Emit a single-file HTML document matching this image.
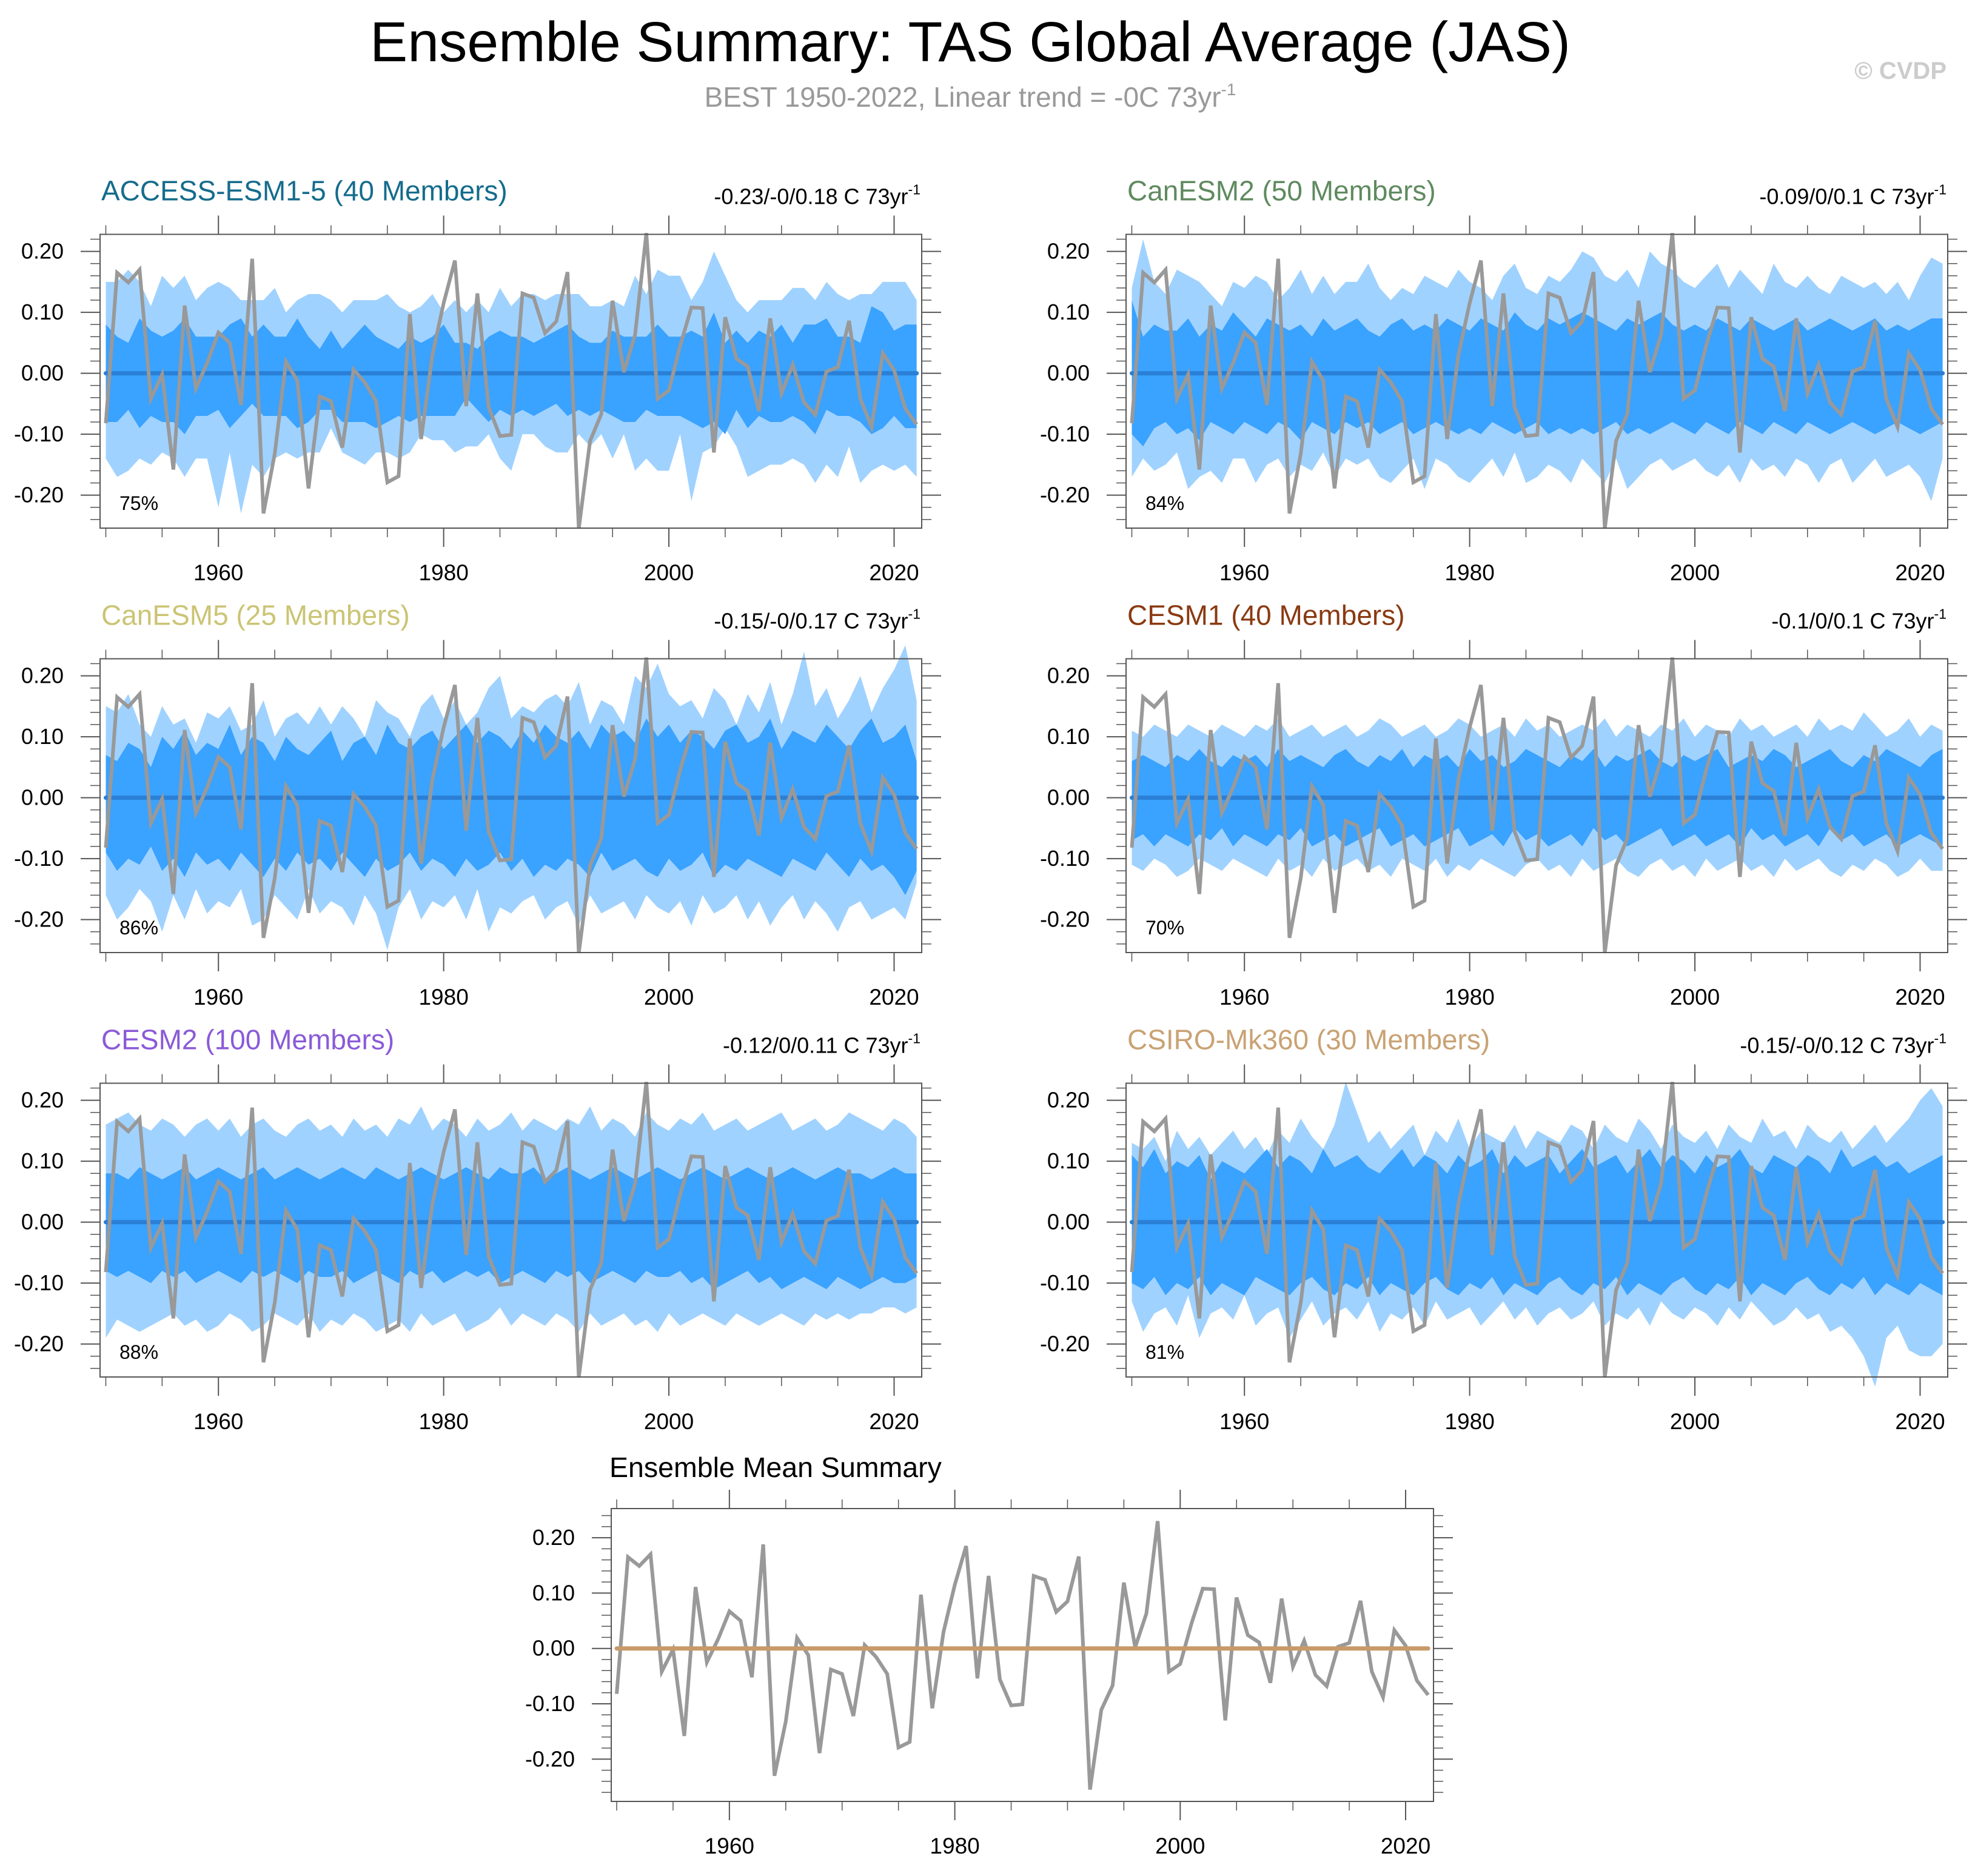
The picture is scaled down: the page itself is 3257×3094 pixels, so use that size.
<!DOCTYPE html>
<html><head><meta charset="utf-8"><style>
html,body{margin:0;padding:0;background:#fff}
svg{display:block;font-family:"Liberation Sans",Arial,sans-serif}
</style></head><body>
<svg id="fig" xmlns="http://www.w3.org/2000/svg" width="3257" height="3094" viewBox="0 0 3257 3094">
<text x="1600" y="101" font-size="93" text-anchor="middle" fill="#000">Ensemble Summary: TAS Global Average (JAS)</text>
<text x="1600" y="176" font-size="46" text-anchor="middle" fill="#999">BEST 1950-2022, Linear trend = -0C 73yr<tspan font-size="28" dy="-19">-1</tspan></text>
<text x="3210" y="130" font-size="40" font-weight="bold" text-anchor="end" fill="#ccc">© CVDP</text>
<text x="1005" y="2436" font-size="46.5" fill="#000">Ensemble Mean Summary</text>
<g id="plots"></g>
</svg>
<script>
const years = [];
for (let y = 1950; y <= 2022; y++) years.push(y);
// observed BEST anomalies (C)
const obs = [-0.082,0.165,0.149,0.170,-0.042,-0.002,-0.158,0.111,-0.025,0.017,
0.067,0.050,-0.052,0.188,-0.230,-0.132,0.019,-0.012,-0.189,-0.038,
-0.046,-0.122,0.006,-0.015,-0.046,-0.179,-0.169,0.097,-0.108,0.030,
0.115,0.185,-0.054,0.131,-0.056,-0.103,-0.101,0.131,0.124,0.066,
0.085,0.166,-0.255,-0.111,-0.067,0.119,0.002,0.063,0.230,-0.042,
-0.028,0.045,0.108,0.107,-0.130,0.092,0.024,0.011,-0.062,0.090,
-0.033,0.014,-0.048,-0.068,0.003,0.010,0.086,-0.042,-0.088,0.033,
0.005,-0.058,-0.084];
const yTicks = [-0.2,-0.1,0,0.1,0.2];
const yTickLabels = ["-0.20","-0.10","0.00","0.10","0.20"];
const xTicks = [1960,1980,2000,2020];
const xTickLabels = ["1960","1980","2000","2020"];
const modelNames = ["ACCESS-ESM1-5 (40 Members)","CanESM2 (50 Members)","CanESM5 (25 Members)","CESM1 (40 Members)","CESM2 (100 Members)","CSIRO-Mk360 (30 Members)"];
const trendLabels = ["-0.23/-0/0.18 C 73yr","-0.09/0/0.1 C 73yr","-0.15/-0/0.17 C 73yr","-0.1/0/0.1 C 73yr","-0.12/0/0.11 C 73yr","-0.15/-0/0.12 C 73yr"];
const pctLabels = ["75%","84%","86%","70%","88%","81%"];
// band edges in hundredths of a degree C
const outerHi = [
[15,15,17,15,11,16,14,16,12,14,15,14,12,12,12,14,10,12,13,13,12,10,12,12,12,13,11,10,11,13,10,12,10,12,10,14,11,13,13,12,13,13,13,11,11,12,11,16,13,17,16,16,12,15,20,16,12,10,12,12,12,14,14,12,15,13,12,13,13,15,15,15,12],
[14,22,15,13,17,16,15,13,11,15,14,16,15,12,14,17,13,16,13,15,15,18,14,12,14,13,16,15,14,17,15,14,12,16,18,14,13,16,15,17,20,19,16,15,17,14,20,18,17,15,14,16,18,14,17,15,13,18,15,14,16,14,13,16,15,14,15,13,15,12,16,19,18],
[15,14,17,12,10,15,12,13,9,14,13,15,11,12,16,10,13,14,12,15,12,15,13,10,16,14,13,10,15,17,13,16,12,14,18,20,13,15,14,16,17,15,19,12,16,15,12,20,18,22,17,15,16,13,18,16,12,17,14,19,12,17,24,15,18,13,16,20,14,18,21,25,16],
[11,10,12,11,10,12,11,10,12,11,10,12,11,13,10,11,12,10,11,12,10,11,13,12,10,11,12,10,11,13,12,10,11,12,10,13,11,12,10,11,12,11,13,10,12,11,10,12,11,13,10,12,11,10,13,11,12,10,11,12,10,13,11,12,11,14,12,10,11,13,10,12,11],
[16,17,18,16,15,17,16,14,16,17,15,17,14,16,17,15,14,16,17,15,16,14,17,15,16,14,17,16,19,15,17,16,14,17,15,16,18,15,17,16,15,17,16,19,15,17,16,14,18,16,15,17,16,18,15,16,17,15,16,17,18,15,16,17,15,16,18,17,16,15,17,16,14],
[13,12,14,10,15,12,14,11,13,15,12,14,11,15,13,17,14,12,16,23,18,13,15,12,14,16,11,15,13,17,12,15,14,13,16,12,15,14,13,16,15,12,16,14,13,17,15,12,16,14,13,15,12,16,14,13,17,14,15,12,16,14,13,15,12,14,16,13,15,17,20,22,19]];
const outerLo = [
[-14,-17,-16,-14,-15,-13,-14,-17,-14,-14,-22,-13,-23,-15,-17,-14,-13,-14,-13,-13,-9,-13,-14,-15,-13,-13,-14,-13,-10,-11,-11,-13,-12,-12,-10,-14,-16,-10,-10,-12,-13,-13,-10,-12,-10,-14,-10,-16,-14,-16,-16,-10,-21,-13,-12,-9,-12,-17,-16,-15,-15,-14,-15,-18,-15,-17,-12,-18,-16,-15,-16,-15,-17],
[-17,-14,-16,-15,-13,-19,-17,-16,-18,-14,-14,-18,-15,-14,-17,-15,-16,-13,-17,-14,-15,-14,-17,-18,-16,-14,-19,-14,-15,-17,-18,-16,-14,-17,-13,-18,-17,-15,-16,-18,-14,-16,-18,-14,-19,-17,-15,-14,-16,-15,-14,-16,-17,-15,-18,-14,-16,-15,-17,-14,-15,-18,-15,-14,-18,-16,-14,-17,-16,-15,-17,-21,-14],
[-16,-20,-18,-15,-17,-22,-16,-20,-15,-19,-17,-18,-15,-21,-20,-16,-18,-20,-15,-19,-17,-18,-21,-16,-19,-25,-18,-15,-20,-17,-18,-16,-20,-15,-22,-18,-19,-17,-16,-20,-18,-17,-21,-16,-19,-18,-17,-20,-16,-18,-19,-17,-21,-16,-19,-18,-16,-20,-17,-21,-18,-16,-20,-17,-19,-22,-18,-17,-20,-19,-18,-20,-14],
[-11,-12,-10,-11,-13,-12,-10,-11,-12,-10,-11,-12,-13,-10,-12,-11,-13,-10,-12,-11,-10,-12,-11,-13,-10,-11,-12,-10,-13,-11,-12,-10,-11,-12,-13,-11,-10,-12,-11,-13,-10,-12,-11,-10,-12,-13,-11,-10,-12,-11,-13,-10,-12,-11,-10,-12,-11,-13,-10,-12,-11,-10,-12,-13,-11,-12,-10,-11,-13,-12,-10,-12,-12],
[-19,-16,-17,-18,-17,-16,-15,-17,-16,-18,-17,-15,-16,-18,-17,-15,-16,-17,-15,-18,-16,-17,-15,-16,-18,-17,-16,-18,-15,-17,-16,-15,-18,-17,-16,-14,-17,-15,-16,-17,-15,-16,-18,-15,-17,-16,-15,-17,-16,-18,-15,-17,-16,-15,-16,-17,-15,-16,-17,-16,-15,-16,-17,-15,-16,-15,-16,-15,-15,-14,-14,-15,-14],
[-13,-18,-15,-14,-17,-12,-19,-15,-14,-16,-12,-17,-15,-14,-19,-16,-13,-17,-15,-14,-16,-13,-18,-15,-16,-14,-17,-13,-16,-15,-14,-17,-15,-13,-16,-14,-17,-15,-14,-16,-15,-13,-17,-15,-16,-14,-17,-13,-15,-16,-14,-15,-17,-14,-16,-13,-15,-17,-16,-14,-16,-15,-18,-17,-19,-22,-27,-19,-17,-21,-22,-22,-20]];
const innerHi = [
[8,6,5,9,7,6,7,9,6,6,6,8,9,6,8,6,6,9,6,4,7,4,6,8,6,5,4,6,5,6,8,5,5,4,6,7,6,6,5,6,7,8,6,5,5,7,6,6,6,8,6,6,7,6,10,5,7,5,7,6,8,5,8,8,9,6,6,5,11,10,7,8,8],
[12,6,8,7,7,9,6,8,7,10,8,6,9,8,7,8,6,9,7,8,9,7,6,8,9,7,8,7,9,8,7,9,8,7,10,8,7,9,8,9,10,9,8,7,9,8,9,10,8,7,8,7,9,8,7,9,8,7,8,9,7,8,9,8,7,8,9,7,8,7,8,9,9],
[7,6,9,8,5,10,8,11,7,9,8,12,7,10,9,6,10,8,7,9,11,6,9,10,7,12,9,8,10,11,8,10,12,9,11,10,8,11,9,12,10,9,11,8,12,10,11,9,13,10,12,9,11,10,8,11,12,9,10,13,8,11,10,9,12,10,8,11,13,9,10,12,6],
[6,7,6,5,7,6,8,6,5,7,6,7,5,8,6,7,6,5,7,8,6,5,7,6,8,5,7,6,7,5,8,6,7,5,6,8,7,6,5,7,6,8,5,7,6,7,8,6,5,7,6,7,8,5,6,7,6,8,7,5,6,7,8,6,5,7,6,8,7,6,5,7,8],
[8,8,7,9,8,7,8,9,7,8,9,8,7,8,9,7,8,9,8,7,8,9,8,7,9,8,7,8,9,8,7,8,9,8,7,9,8,8,9,7,8,9,8,7,8,9,8,7,8,9,8,7,8,9,8,7,8,9,8,7,8,9,8,7,8,9,8,8,7,8,9,8,8],
[11,9,12,8,10,9,11,7,10,9,8,10,12,9,11,10,8,12,9,10,11,9,8,10,12,9,11,10,8,11,9,10,12,8,11,9,10,11,8,10,12,9,10,11,8,10,12,9,11,10,8,11,9,10,12,9,8,11,10,9,11,10,8,12,9,10,11,9,10,8,9,10,11]];
const innerLo = [
[-8,-8,-6,-9,-7,-8,-8,-10,-7,-7,-6,-9,-7,-5,-7,-7,-7,-9,-8,-6,-6,-8,-8,-8,-9,-8,-7,-8,-7,-7,-7,-7,-4,-6,-8,-6,-7,-6,-7,-6,-5,-7,-6,-7,-6,-7,-8,-8,-6,-7,-7,-7,-8,-9,-8,-10,-6,-9,-7,-8,-8,-7,-8,-10,-6,-7,-7,-8,-10,-9,-7,-9,-9],
[-10,-12,-9,-8,-10,-9,-11,-8,-9,-10,-8,-9,-10,-8,-9,-11,-8,-9,-10,-8,-9,-8,-10,-9,-8,-10,-9,-8,-9,-10,-9,-10,-8,-9,-10,-9,-8,-10,-9,-10,-9,-10,-9,-8,-10,-9,-10,-9,-8,-9,-10,-8,-9,-10,-8,-9,-10,-8,-9,-10,-8,-9,-10,-9,-8,-9,-10,-9,-8,-9,-10,-9,-8],
[-9,-12,-10,-11,-8,-12,-10,-13,-9,-11,-10,-12,-9,-11,-13,-10,-12,-9,-11,-10,-12,-9,-11,-13,-10,-12,-11,-9,-12,-10,-11,-13,-10,-12,-11,-9,-12,-10,-13,-11,-12,-10,-11,-13,-9,-12,-11,-10,-12,-13,-10,-12,-11,-9,-13,-11,-12,-10,-11,-12,-13,-10,-11,-12,-9,-11,-13,-10,-12,-11,-13,-16,-12],
[-7,-6,-8,-6,-7,-8,-6,-7,-5,-8,-6,-7,-8,-6,-7,-5,-8,-7,-6,-8,-7,-6,-5,-8,-7,-6,-8,-7,-6,-5,-8,-7,-6,-8,-5,-7,-6,-8,-7,-6,-8,-5,-7,-6,-8,-7,-6,-5,-8,-7,-6,-8,-7,-6,-8,-5,-7,-6,-8,-7,-6,-8,-5,-7,-6,-8,-7,-6,-8,-7,-6,-7,-8],
[-8,-9,-8,-9,-10,-8,-9,-8,-10,-9,-8,-9,-10,-8,-9,-8,-9,-10,-8,-9,-9,-8,-10,-9,-8,-9,-10,-8,-9,-8,-10,-9,-8,-9,-8,-10,-9,-8,-9,-10,-8,-9,-8,-10,-9,-8,-9,-10,-8,-9,-9,-8,-10,-9,-11,-10,-9,-8,-10,-9,-11,-10,-9,-10,-11,-9,-10,-11,-10,-9,-10,-10,-9],
[-10,-11,-9,-12,-10,-11,-9,-12,-10,-11,-12,-9,-10,-11,-12,-10,-9,-11,-12,-10,-11,-9,-12,-10,-11,-12,-10,-9,-11,-12,-10,-11,-9,-12,-10,-11,-12,-10,-9,-11,-12,-10,-11,-9,-12,-10,-11,-12,-10,-9,-11,-12,-10,-11,-9,-12,-10,-11,-12,-10,-9,-11,-12,-10,-11,-9,-12,-10,-11,-12,-10,-11,-12]];

const NS = "http://www.w3.org/2000/svg";
const root = document.getElementById('plots');
const titleColors = ["#156c8c","#5f8a5f","#cbc474","#8a3a12","#8a5ad8","#c9a274"];
function mk(tag, attrs, parent) {
  const e = document.createElementNS(NS, tag);
  for (const k in attrs) e.setAttribute(k, attrs[k]);
  parent.appendChild(e);
  return e;
}
function drawAxes(g, L, R, T, B, xs, ys) {
  mk('rect', {x:L, y:T, width:R-L, height:B-T, fill:'none', stroke:'#555', 'stroke-width':2}, g);
  for (let y = 1950; y <= 2020; y += 5) {
    const major = xTicks.indexOf(y) >= 0;
    const len = major ? 31 : 15;
    const x = xs(y);
    mk('line', {x1:x, x2:x, y1:T, y2:T-len, stroke:'#555', 'stroke-width':major?2:1.5}, g);
    mk('line', {x1:x, x2:x, y1:B, y2:B+len, stroke:'#555', 'stroke-width':major?2:1.5}, g);
  }
  for (let k = -26; k <= 24; k += 2) {
    const v = k / 100;
    const py = ys(v);
    if (py < T || py > B) continue;
    const major = (k % 10 === 0);
    const len = major ? 32 : 16;
    mk('line', {x1:L, x2:L-len, y1:py, y2:py, stroke:'#555', 'stroke-width':major?2:1.5}, g);
    mk('line', {x1:R, x2:R+len, y1:py, y2:py, stroke:'#555', 'stroke-width':major?2:1.5}, g);
  }
  yTicks.forEach((v, i) => {
    const t = mk('text', {x:L-60, y:ys(v)+12, 'font-size':36, 'text-anchor':'end', fill:'#000'}, g);
    
    
    t.textContent = yTickLabels[i];
  });
  xTicks.forEach((v, i) => {
    const t = mk('text', {x:xs(v), y:B+86, 'font-size':37, 'text-anchor':'middle', fill:'#000'}, g);
    
    
    t.textContent = xTickLabels[i];
  });
}
function obsLine(g, xs, ys) {
  const d = obs.map((v, i) => (i ? 'L' : 'M') + xs(years[i]).toFixed(1) + ',' + ys(v).toFixed(1)).join('');
  const p = mk('path', {d:d, fill:'none', stroke:'#999', 'stroke-width':6, 'stroke-linejoin':'miter'}, g);
  
  
}
function band(g, hi, lo, xs, ys, fill, name) {
  let d = '';
  hi.forEach((v, i) => { d += (i ? 'L' : 'M') + xs(years[i]).toFixed(1) + ',' + ys(v/100).toFixed(1); });
  for (let i = lo.length - 1; i >= 0; i--) d += 'L' + xs(years[i]).toFixed(1) + ',' + ys(lo[i]/100).toFixed(1);
  const p = mk('path', {d:d + 'Z', fill:fill, stroke:'none'}, g);
  
  
}
for (let m = 0; m < 6; m++) {
  const col = m % 2, row = Math.floor(m / 2);
  const ox = col * 1692, oy = row * 700;
  const L = 165 + ox, R = 1520 + ox, T = 386.5 + oy, B = 871 + oy;
  const xs = y => 174.5 + ox + (y - 1950) * 18.571;
  const ys = v => 615.6 + oy - v * 1005;
  const g = mk('g', {}, root);
  
  
  band(g, outerHi[m], outerLo[m], xs, ys, '#a0d2ff', 'outer-spread-band');
  band(g, innerHi[m], innerLo[m], xs, ys, '#3aa2ff', 'inner-spread-band');
  const z = mk('line', {x1:xs(1950), x2:xs(2022), y1:ys(0), y2:ys(0), stroke:'#2a80d6', 'stroke-width':7, 'stroke-linecap':'round'}, g);
  
  
  obsLine(g, xs, ys);
  drawAxes(g, L, R, T, B, xs, ys);
  const tt = mk('text', {x:L+2, y:T-56, 'font-size':46, fill:titleColors[m]}, g);
  
  
  tt.textContent = modelNames[m];
  const tr = mk('text', {x:R-2, y:T-50, 'font-size':36, 'text-anchor':'end', fill:'#000'}, g);
  
  
  tr.textContent = trendLabels[m];
  const sp = mk('tspan', {'font-size':23, dy:-16}, tr);
  sp.textContent = '-1';
  const pc = mk('text', {x:L+32, y:B-30, 'font-size':32, fill:'#000'}, g);
  
  
  pc.textContent = pctLabels[m];
}
{
  const L = 1008, R = 2364, T = 2488, B = 2971;
  const xs = y => 1017 + (y - 1950) * 18.586;
  const ys = v => 2718.7 - v * 913;
  const g = mk('g', {}, root);
  
  
  obsLine(g, xs, ys);
  const z = mk('line', {x1:xs(1950), x2:xs(2022), y1:ys(0), y2:ys(0), stroke:'#c79a68', 'stroke-width':7, 'stroke-linecap':'round'}, g);
  
  
  drawAxes(g, L, R, T, B, xs, ys);
}
</script>
</body></html>
